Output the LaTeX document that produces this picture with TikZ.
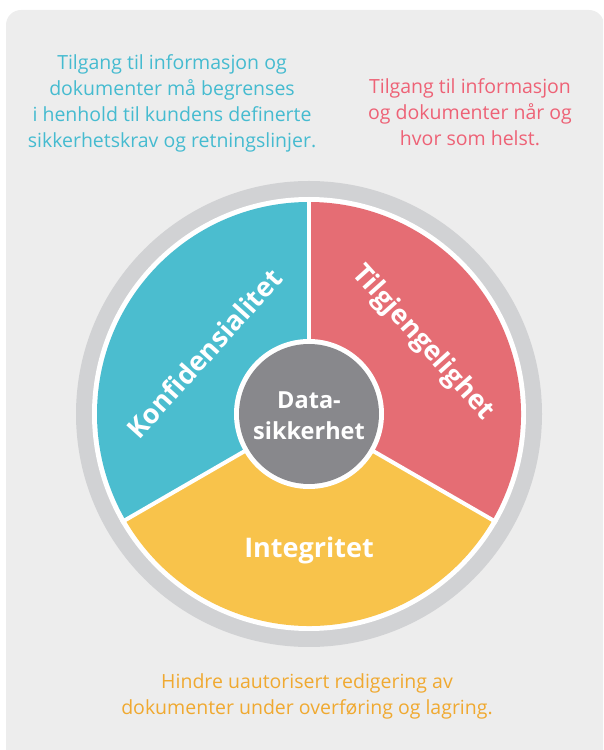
\documentclass[tikz,border=0pt]{standalone}
\usepackage{fontspec}
\setmainfont{Open Sans}
\definecolor{panelgray}{HTML}{EDEDED}
\definecolor{ringgray}{HTML}{D1D2D4}
\definecolor{hubgray}{HTML}{88888C}
\definecolor{konfblue}{HTML}{4BBDCF}
\definecolor{tilgred}{HTML}{E56D74}
\definecolor{integyellow}{HTML}{F8C34B}
\definecolor{konftext}{HTML}{45BBD0}
\definecolor{tilgtext}{HTML}{EE6276}
\definecolor{integtext}{HTML}{F0A930}
\begin{document}
\begin{tikzpicture}[x=1pt,y=1pt,
    note/.style={align=center,anchor=base,font=\fontsize{19.5}{26}\selectfont},
    part/.style={text=white,align=center,font=\bfseries\fontsize{27}{31}\selectfont}]
    	\newcommand{\cx}{309}
    	\newcommand{\cy}{336}
    	\newcommand{\rring}{233} % outer edge of the gray ring
    	\newcommand{\rgap}{217}
    	\newcommand{\rpart}{212} % radius of the coloured parts
    	\newcommand{\rhub}{75}
    	\newcommand{\rcore}{70}

    	\useasboundingbox (0,0) rectangle (603,750);

    	% panel
    	\begin{scope}
    	  \clip (0,0) rectangle (603,750);
    	  \fill[panelgray, rounded corners=15] (6,-20) rectangle (604,740);
    	\end{scope}

    	% ring
    	\coordinate (mid) at (\cx,\cy);
    	\fill[ringgray] (mid) circle (\rring);
    	\fill[white] (mid) circle (\rgap);

    	% parts
    	\foreach \a/\col in {90/konfblue,210/integyellow,330/tilgred}
    	  \fill[\col] (mid) -- ++(\a:\rpart) arc (\a:\a+120:\rpart) -- cycle;
    	\foreach \a in {90,210,330}
    	  \draw[white, line width=4] (mid) -- ++(\a:\rgap);

    	% hub
    	\fill[white] (mid) circle (\rhub);
    	\fill[hubgray] (mid) circle (\rcore);

    	% labels
    	\node[part, font=\bfseries\fontsize{23.5}{31}\selectfont] (core) at ([yshift=-2]mid) {Data-\\sikkerhet};
    	\node[part, rotate=48] (konf) at ([shift={(150:121)}]mid) {Konfidensialitet};
    	\node[part, rotate=-48] (tilg) at ([shift={(32:134)}]mid) {Tilgjengelighet};
    	\node[part] (integ) at ([shift={(270:136)}]mid) {Integritet};

    	% notes (base = last line)
    	\node[note, text=konftext] (konfnote) at (172,602) {Tilgang til informasjon og\\dokumenter må begrenses\\i henhold til kundens definerte\\sikkerhetskrav og retningslinjer.};
    	\node[note, text=tilgtext] (tilgnote) at (470,604) {Tilgang til informasjon\\og dokumenter når og\\hvor som helst.};
    	\node[note, text=integtext] (integnote) at (307,35) {Hindre uautorisert redigering av\\dokumenter under overføring og lagring.};
\end{tikzpicture}
\end{document}
